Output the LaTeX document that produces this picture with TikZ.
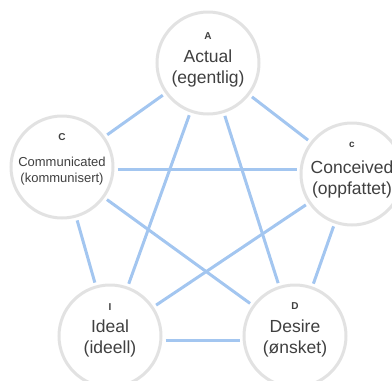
\documentclass[tikz,border=0pt]{standalone}
\usepackage{fontspec}
\setmainfont{Liberation Sans}
\usetikzlibrary{backgrounds}
\definecolor{edgeblue}{HTML}{A3C6F0}
\definecolor{ringgray}{HTML}{E2E2E2}
\definecolor{txt}{HTML}{404040}
\begin{document}
\begin{tikzpicture}[x=1pt,y=-1pt,
  ring/.style={circle, draw=ringgray, line width=3pt, fill=white, minimum size=102pt, inner sep=0pt},
  link/.style={draw=edgeblue, line width=3pt, shorten <=3pt, shorten >=3pt},
  tag/.style={font=\bfseries\fontsize{10}{11}\selectfont, text=txt, inner sep=0pt},
  main/.style={font=\fontsize{17.5}{21}\selectfont, text=txt, align=center, inner sep=0pt},
  small/.style={font=\fontsize{13}{16.5}\selectfont, text=txt, align=center, inner sep=0pt}]
\useasboundingbox (0,0) rectangle (392,381);
\node[ring] (A) at (208,63) {};
\node[ring] (CL) at (62,167) {};
\node[ring] (CR) at (352,174) {};
\node[ring] (I) at (110,336) {};
\node[ring] (D) at (295,336) {};
\begin{scope}[on background layer]
\draw[link] (A) -- (CL);
\draw[link] (A) -- (CR);
\draw[link] (A) -- (I);
\draw[link] (A) -- (D);
\draw[link] ([yshift=-2pt]CL.east) -- ([yshift=-2pt]CL.east -| CR.west);
\draw[link] (CL) -- (I);
\draw[link] (CL) -- (D);
\draw[link] (CR) -- (I);
\draw[link] (CR) -- (D);
\draw[link] ([yshift=-4pt]I.east) -- ([yshift=-4pt]I.east -| D.west);
\end{scope}
\node[tag] (Atag) at (208,36) {A};
\node[main] (Atext) at (208,68) {Actual\\(egentlig)};
\node[tag] (CLtag) at (62,137) {C};
\node[small] (CLtext) at (62,171) {Communicated\\(kommunisert)};
\node[tag] (CRtag) at (352,145) {c};
\node[main] (CRtext) at (352,179) {Conceived\\(oppfattet)};
\node[tag] (Itag) at (110,307) {I};
\node[main] (Itext) at (110,338) {Ideal\\(ideell)};
\node[tag] (Dtag) at (295,306) {D};
\node[main] (Dtext) at (295,338) {Desire\\(ønsket)};
\end{tikzpicture}
\end{document}
